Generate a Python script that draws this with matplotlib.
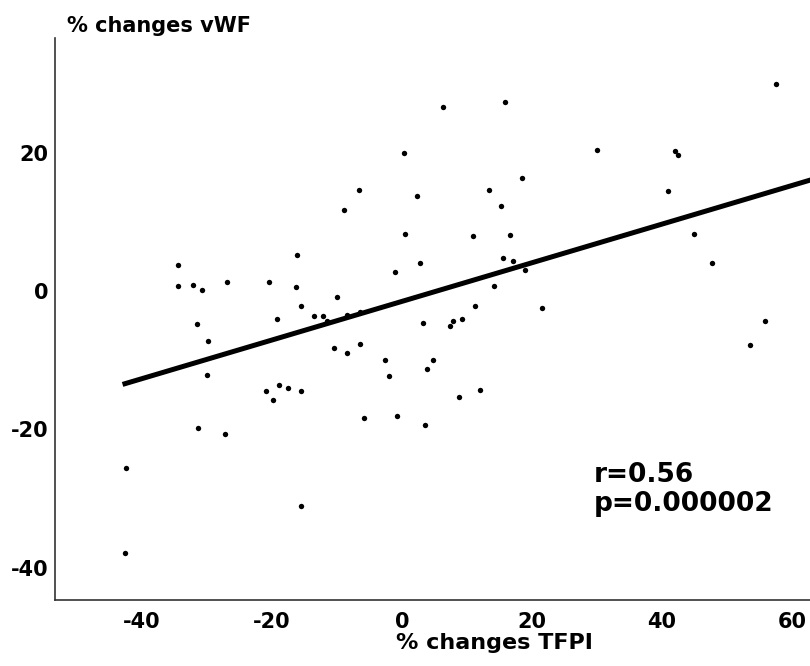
import matplotlib.pyplot as plt
import numpy as np

# values
tfpi = [-34.5, -34.4, -32.1, -30.7, -27.0, -20.5, -16.2, -16.3, -10.0, -15.6,
        -13.5, -12.2, -11.5, -19.2, -31.6, -29.9, -10.5, -30.0, -8.4, -6.4,
        -2.6, -2.0, -21.0, -18.9, -17.5, -15.6, -19.8, -31.4, -27.3, -5.8,
        -0.7, -42.5, -15.5, -42.7, -8.4, -6.5, 3.3, 7.4, 7.8, 9.3,
        11.3, 21.6, 4.7, 3.8, 8.8, 12.0, 3.6, 6.3, 15.9, 0.3,
        -6.6, 2.3, 18.5, 13.4, 15.2, -8.9, 0.4, 10.9, 16.7, 15.6,
        17.1, 18.9, 2.7, -1.0, 14.2, 57.5, 30.0, 42.0, 42.5, 40.9,
        45.0, 47.7, 55.9, 53.5]
vwf = [3.8, 0.7, 0.8, 0.1, 1.3, 1.3, 5.2, 0.6, -0.9, -2.2,
       -3.6, -3.6, -4.4, -4.1, -4.8, -7.2, -8.3, -12.1, -9.0, -7.7,
       -10.0, -12.3, -14.4, -13.6, -14.0, -14.4, -15.8, -19.8, -20.7, -18.4,
       -18.1, -25.6, -31.0, -37.9, -3.5, -3.1, -4.6, -5.0, -4.4, -4.0,
       -2.2, -2.4, -10.0, -11.3, -15.3, -14.3, -19.3, 26.6, 27.3, 19.9,
       14.6, 13.8, 16.4, 14.6, 12.3, 11.7, 8.2, 7.9, 8.1, 4.7,
       4.4, 3.1, 4.0, 2.8, 0.7, 29.9, 20.4, 20.3, 19.7, 14.4,
       8.2, 4.0, -4.3, -7.8]

# regression line as drawn in the figure
fit_slope = 0.279
fit_intercept = -1.5
fit_x = [-43.0, 63.0]

xticks = [-40, -20, 0, 20, 40, 60]
yticks = [-40, -20, 0, 20]

plt.rcParams['axes.unicode_minus'] = False
plt.rcParams['font.family'] = 'DejaVu Sans'
plt.rcParams['font.weight'] = 'bold'

fig = plt.figure(figsize=(8.1, 6.66), dpi=100)
ax = fig.add_axes([55 / 810, 1 - 600 / 666, 1 - 55 / 810, (600 - 38) / 666])

ax.scatter(tfpi, vwf, s=15, color='black', linewidths=0, zorder=3)
xs = np.array(fit_x)
ax.plot(xs, fit_slope * xs + fit_intercept, color='black', lw=3.6,
        solid_capstyle='butt', zorder=2)

ax.set_xlim(-53.4, 62.8)
ax.set_ylim(-44.65, 36.56)
ax.set_xticks(xticks)
ax.set_yticks(yticks)
ax.tick_params(axis='both', length=0, labelsize=15)
ax.tick_params(axis='x', pad=8.5)
ax.tick_params(axis='y', pad=5)
for lab in ax.get_xticklabels() + ax.get_yticklabels():
    lab.set_fontweight('bold')

ax.spines['top'].set_visible(False)
ax.spines['right'].set_visible(False)
for s in ['left', 'bottom']:
    ax.spines[s].set_color('#333333')
    ax.spines[s].set_linewidth(1.2)

fig.text(67 / 810, 1 - 32 / 666, '% changes vWF', fontsize=15,
         fontweight='bold', ha='left', va='baseline')
fig.text(494 / 810, 1 - 649 / 666, '% changes TFPI', fontsize=16,
         fontweight='bold', ha='center', va='baseline')
fig.text(594 / 810, 1 - 482 / 666, 'r=0.56', fontsize=19,
         fontweight='bold', ha='left', va='baseline')
fig.text(594 / 810, 1 - 511 / 666, 'p=0.000002', fontsize=19,
         fontweight='bold', ha='left', va='baseline')

fig.savefig('out.png', dpi=100)
